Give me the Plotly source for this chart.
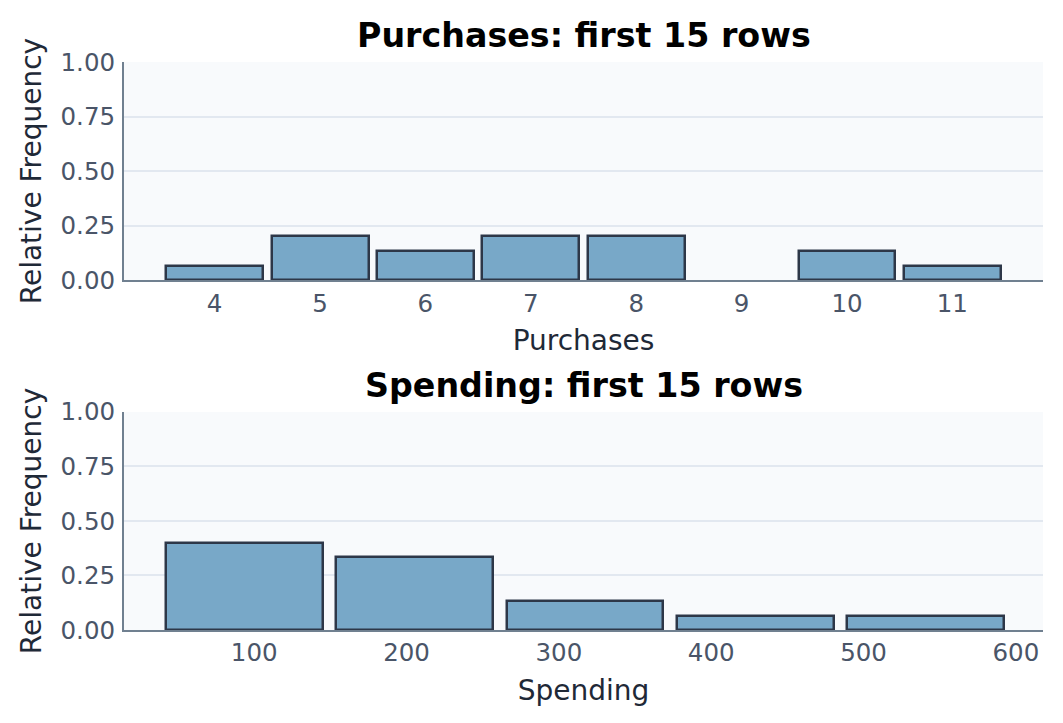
import plotly.graph_objects as go
from plotly.subplots import make_subplots

# purchases per row, counted over the first 15 rows
purchase_values = [4, 5, 6, 7, 8, 9, 10, 11]
purchase_counts = [1, 3, 2, 3, 3, 0, 2, 1]

# spending histogram (bin edges)
spending_edges = [37.6, 149.4, 261.2, 373.0, 484.8, 596.6]
spending_counts = [6, 5, 2, 1, 1]

n_rows = 15

purchase_freq = [c / n_rows for c in purchase_counts]
spending_freq = [c / n_rows for c in spending_counts]
spending_centers = [(spending_edges[i] + spending_edges[i + 1]) / 2 for i in range(len(spending_counts))]
spending_widths = [(spending_edges[i + 1] - spending_edges[i]) * 0.92 for i in range(len(spending_counts))]

bar_fill = "#78A8C8"
bar_edge = "#2D3748"
font_family = "DejaVu Sans"

# empty bins get no outline
purchase_edge_w = [2.5 if c > 0 else 0 for c in purchase_counts]

fig = make_subplots(rows=2, cols=1, vertical_spacing=0.232)

fig.add_trace(go.Bar(x=purchase_values, y=purchase_freq, width=0.92,
                     marker=dict(color=bar_fill, line=dict(color=bar_edge, width=purchase_edge_w)),
                     showlegend=False), row=1, col=1)
fig.add_trace(go.Bar(x=spending_centers, y=spending_freq, width=spending_widths,
                     marker=dict(color=bar_fill, line=dict(color=bar_edge, width=2.5)),
                     showlegend=False), row=2, col=1)

axis_common = dict(showline=True, linecolor="#708090", linewidth=2, automargin=False,
                   tickfont=dict(size=24.5, color="#4A5568", family=font_family),
                   title_font=dict(size=28, color="#1F2937", family=font_family))

fig.update_xaxes(showgrid=False, zeroline=False, ticks="", **axis_common)
fig.update_yaxes(range=[0, 1], tickvals=[0, 0.25, 0.5, 0.75, 1.0], tickformat=".2f",
                 showgrid=True, gridcolor="#E2E8F0", gridwidth=2, zeroline=False,
                 ticks="outside", ticklen=2, tickcolor="rgba(0,0,0,0)",
                 title_text="Relative Frequency", title_standoff=11, **axis_common)

fig.update_xaxes(range=[3.14, 11.86], tickvals=purchase_values, title_text="Purchases",
                 title_standoff=14, row=1, col=1)
fig.update_xaxes(range=[14.5, 617.8], tickvals=[100, 200, 300, 400, 500, 600],
                 title_text="Spending", title_standoff=14, row=2, col=1)

fig.add_annotation(text="<b>Purchases: first 15 rows</b>", xref="x domain", yref="y domain",
                   x=0.5, y=1.0, yshift=5, showarrow=False, xanchor="center", yanchor="bottom",
                   font=dict(size=33.3, color="black", family=font_family))
fig.add_annotation(text="<b>Spending: first 15 rows</b>", xref="x2 domain", yref="y2 domain",
                   x=0.5, y=1.0, yshift=5, showarrow=False, xanchor="center", yanchor="bottom",
                   font=dict(size=33.3, color="black", family=font_family))

# page body has an 8px margin, so the figure is shrunk by that much
fig.update_layout(width=1055, height=715,
                  margin=dict(l=116, r=20, t=54, b=93),
                  plot_bgcolor="#F8FAFC", paper_bgcolor="white",
                  font=dict(family=font_family),
                  bargap=0)

fig.write_html("out.html")
